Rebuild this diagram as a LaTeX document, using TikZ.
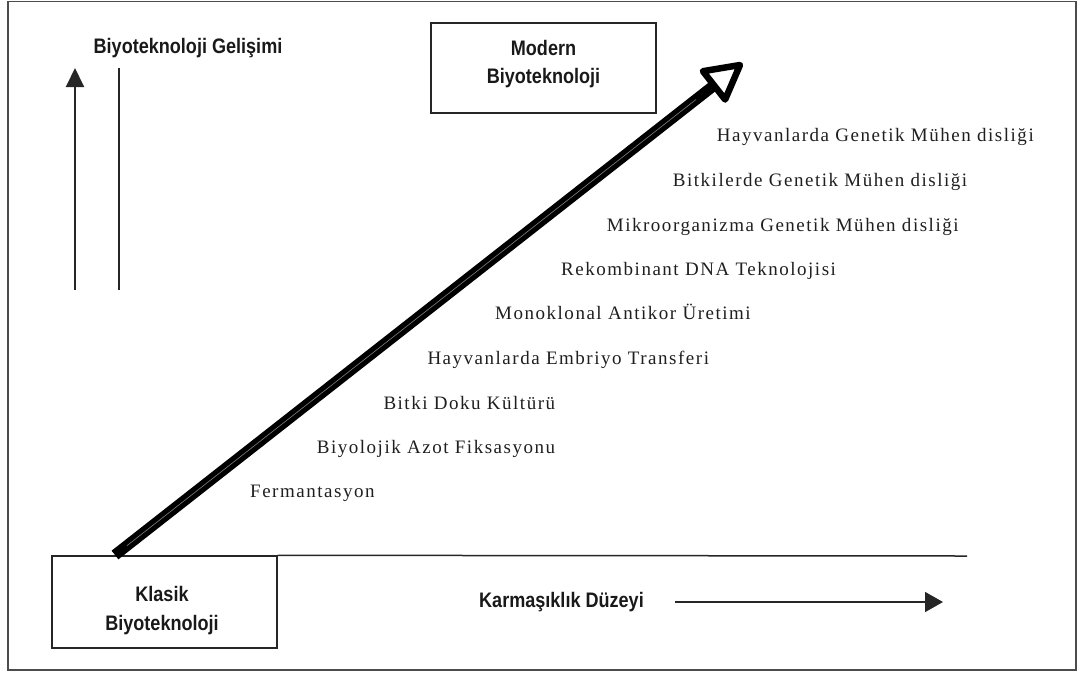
\documentclass[tikz,border=0pt]{standalone}
\usepackage{fontspec}
\usetikzlibrary{arrows.meta,calc}
\newfontfamily\lblfont[LetterSpace=8]{Liberation Serif}
\newfontfamily\hdfont[FakeStretch=0.86]{Liberation Sans}
\begin{document}
\begin{tikzpicture}[x=1pt,y=-1pt,
  lbl/.style={font=\lblfont\fontsize{19}{22}\selectfont, anchor=base west, inner sep=0pt, text=black!88},
  hd/.style={font=\hdfont\bfseries\fontsize{21}{24}\selectfont, anchor=base, inner sep=0pt, text=black!90},
  boxnode/.style={draw=black!85, line width=1.4pt, inner sep=0pt},
  thinline/.style={draw=black!85, line width=1.5pt}
]
\useasboundingbox (0,0) rectangle (1078,673);
\draw[line width=1.5pt, black!70] (8,1.5) rectangle (1076,670);

% left vertical arrow and line
\coordinate (va0) at (75,290);
\coordinate (va1) at (75,68);
\coordinate (vl0) at (119,68);
\coordinate (vl1) at (119,290);
\draw[thinline, line width=2pt, -{Triangle[length=19pt,width=18pt]}] (va0) -- (va1);
\draw[thinline] (vl0) -- (vl1);
\node[hd] (gel) at (188,53) {Biyoteknoloji Gelişimi};

% boxes
\node[boxnode, minimum width=225pt, minimum height=90pt] (modern) at (543.5,68) {};
\node[hd] (modern1) at (543.5,55) {Modern};
\node[hd] (modern2) at (543.5,83) {Biyoteknoloji};

\node[boxnode, minimum width=225pt, minimum height=92pt] (klasik) at (164.5,602) {};
\node[hd] (klasik1) at (162,601) {Klasik};
\node[hd] (klasik2) at (162,630) {Biyoteknoloji};

% horizontal base line
\coordinate (hend) at (967,556);
\draw[thinline] (klasik.north east) -- (hend);

% complexity arrow
\node[hd] (karm) at (561.5,607) {Karmaşıklık Düzeyi};
\coordinate (ka0) at (675,602);
\coordinate (ka1) at (943,602);
\draw[thinline, -{Triangle[length=18pt,width=20pt]}] (ka0) -- (ka1);

% big arrow
\coordinate (bstart) at (115,555);
\coordinate (btip) at (740,65);
\coordinate (bmid) at ($(btip)!33pt!(bstart)$);
\coordinate (bc1) at ($(bmid)!18pt!90:(btip)$);
\coordinate (bc2) at ($(bmid)!18pt!-90:(btip)$);
\draw[line width=11pt, black] (bstart) -- (bmid);
\draw[line width=0.6pt, black!50] ($(bstart)!0.02!(bmid)$) -- ($(bstart)!0.97!(bmid)$);
\draw[line width=6.5pt, line join=round, fill=white] (btip) -- (bc1) -- (bc2) -- cycle;

% labels
\node[lbl] (l1) at (716.7,141) {Hayvanlarda Genetik Mühen disliği};
\node[lbl] (l2) at (672.7,186) {Bitkilerde Genetik Mühen disliği};
\node[lbl] (l3) at (606.7,231) {Mikroorganizma Genetik Mühen disliği};
\node[lbl] (l4) at (561,275) {Rekombinant DNA Teknolojisi};
\node[lbl] (l5) at (495,319) {Monoklonal Antikor Üretimi};
\node[lbl] (l6) at (427.3,364) {Hayvanlarda Embriyo Transferi};
\node[lbl] (l7) at (383.3,409) {Bitki Doku Kültürü};
\node[lbl] (l8) at (316.7,453) {Biyolojik Azot Fiksasyonu};
\node[lbl] (l9) at (250,497) {Fermantasyon};
\end{tikzpicture}
\end{document}
